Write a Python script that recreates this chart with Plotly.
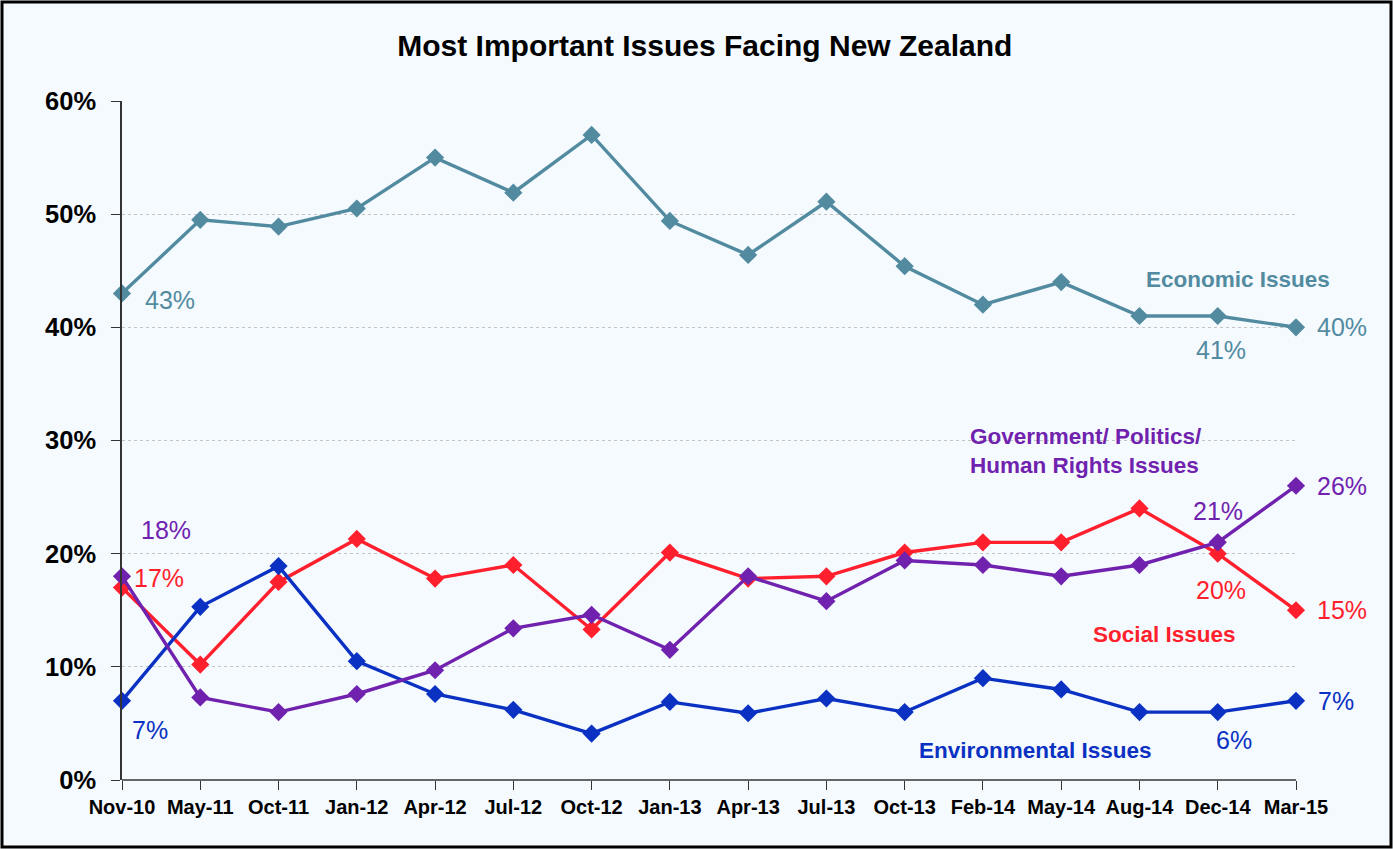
import plotly.graph_objects as go

categories = ["Nov-10", "May-11", "Oct-11", "Jan-12", "Apr-12", "Jul-12", "Oct-12", "Jan-13",
              "Apr-13", "Jul-13", "Oct-13", "Feb-14", "May-14", "Aug-14", "Dec-14", "Mar-15"]

economic = [43.0, 49.5, 48.9, 50.5, 55.0, 51.9, 57.0, 49.4, 46.4, 51.1, 45.4, 42.0, 44.0, 41.0, 41.0, 40.0]
social = [17.0, 10.2, 17.5, 21.3, 17.8, 19.0, 13.3, 20.1, 17.8, 18.0, 20.1, 21.0, 21.0, 24.0, 20.0, 15.0]
government = [18.0, 7.3, 6.0, 7.6, 9.7, 13.4, 14.6, 11.5, 18.0, 15.8, 19.4, 19.0, 18.0, 19.0, 21.0, 26.0]
environmental = [7.0, 15.3, 18.9, 10.5, 7.6, 6.2, 4.1, 6.9, 5.9, 7.2, 6.0, 9.0, 8.0, 6.0, 6.0, 7.0]

y_ticks = [0, 10, 20, 30, 40, 50, 60]
y_tick_labels = ["0%", "10%", "20%", "30%", "40%", "50%", "60%"]

C_ECO = "#528BA0"
C_SOC = "#FF1F2D"
C_GOV = "#7022AE"
C_ENV = "#0A31C2"

FONT = "Liberation Sans, Arial, sans-serif"

fig = go.Figure()
for name, vals, col in [("Economic Issues", economic, C_ECO),
                        ("Social Issues", social, C_SOC),
                        ("Environmental Issues", environmental, C_ENV),
                        ("Government/ Politics/ Human Rights Issues", government, C_GOV)]:
    fig.add_trace(go.Scatter(
        x=list(range(len(categories))), y=vals, name=name, mode="lines+markers",
        line=dict(color=col, width=3.4),
        marker=dict(symbol="diamond", size=14, color=col),
        showlegend=False, hoverinfo="skip", cliponaxis=False))

def pct(v):
    return f"{round(v):d}%"

n = len(categories) - 1
value_labels = [
    (0, economic[0], C_ECO, 48, -7),
    (n - 1, economic[n - 1], C_ECO, 3, -34),
    (n, economic[n], C_ECO, 46, 0),
    (0, government[0], C_GOV, 44, 46),
    (0, social[0], C_SOC, 37, 10),
    (0, environmental[0], C_ENV, 28, -29),
    (n - 1, government[n - 1], C_GOV, 0, 31),
    (n, government[n], C_GOV, 46, 0),
    (n - 1, social[n - 1], C_SOC, 3, -36),
    (n, social[n], C_SOC, 46, 0),
    (n, environmental[n], C_ENV, 40, 0),
    (n - 1, environmental[n - 1], C_ENV, 16, -28),
]
annotations = []
for xi, v, col, dx, dy in value_labels:
    annotations.append(dict(x=xi, y=v, xref="x", yref="y", text=pct(v), showarrow=False,
                            xshift=dx, yshift=dy, font=dict(family=FONT, size=25, color=col)))

series_labels = [
    ("<b>Economic Issues</b>", 1238, 279, C_ECO),
    ("<b>Government/ Politics/<br>Human Rights Issues</b>", 1086, 451, C_GOV),
    ("<b>Social Issues</b>", 1164, 634, C_SOC),
    ("<b>Environmental Issues</b>", 1035, 750, C_ENV),
]
L, T, PW, PH = 122, 101, 1174, 679
for text, px, py, col in series_labels:
    annotations.append(dict(x=(px - L) / PW, y=1 - (py - T) / PH, xref="paper", yref="paper",
                            text=text, showarrow=False, align="left",
                            xanchor="center", yanchor="middle",
                            font=dict(family=FONT, size=22.5, color=col)))

fig.update_layout(
    width=1393, height=849,
    margin=dict(l=L, r=1393 - L - PW, t=T, b=849 - T - PH),
    paper_bgcolor="#F5FAFF", plot_bgcolor="#F5FAFF",
    title=dict(text="<b>Most Important Issues Facing New Zealand</b>", x=0.506, xanchor="center",
               y=1 - 45 / 849, yanchor="middle",
               font=dict(family=FONT, size=30, color="black")),
    font=dict(family=FONT),
    annotations=annotations,
    xaxis=dict(range=[0, n], tickmode="array", tickvals=list(range(len(categories))),
               ticktext=[f"<b>{c}</b>" for c in categories], showgrid=False, zeroline=False,
               ticks="outside", ticklen=9, tickcolor="#333", showline=False,
               tickfont=dict(family=FONT, size=20, color="black"), fixedrange=True),
    yaxis=dict(range=[0, 60], tickmode="array", tickvals=y_ticks,
               ticktext=[f"<b>{t}</b>" for t in y_tick_labels],
               showgrid=True, gridcolor="#C4C4C4", griddash="dot", gridwidth=1,
               zeroline=False, ticks="outside", ticklen=9, tickcolor="#333",
               showline=True, linecolor="#333", linewidth=1.5, ticklabelstandoff=10,
               tickfont=dict(family=FONT, size=25.5, color="black"), fixedrange=True),
    shapes=[
        dict(type="line", xref="paper", yref="paper", x0=0, x1=1, y0=0, y1=0,
             line=dict(color="#333", width=1.5)),
        dict(type="rect", xref="paper", yref="paper",
             x0=(2 - L) / PW, x1=(1391 - L) / PW, y0=1 - (847 - T) / PH, y1=1 - (2 - T) / PH,
             line=dict(color="black", width=3), layer="above"),
    ],
)
fig.write_html("out.html", config={"displayModeBar": False},
               post_script="document.body.style.margin='0';document.body.style.overflow='hidden';")
